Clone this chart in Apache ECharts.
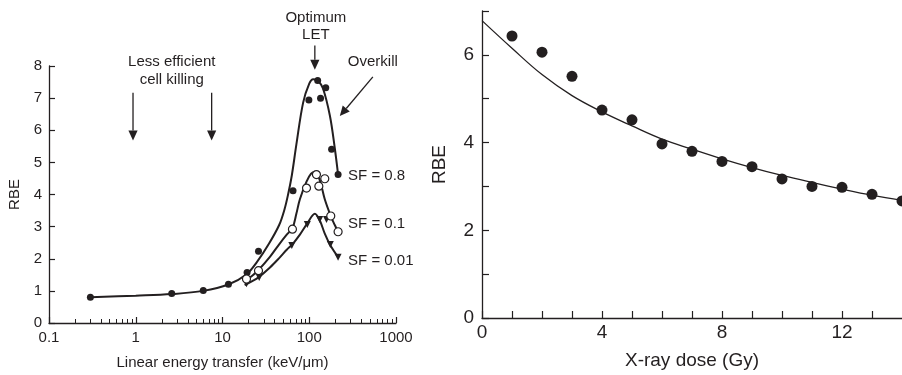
<!DOCTYPE html>
<html><head><meta charset="utf-8">
<script src="https://cdn.jsdelivr.net/npm/echarts@6/dist/echarts.min.js"></script>
<style>html,body{margin:0;padding:0;background:#fff}#c{width:902px;height:375px}</style>
</head><body><div id="c"></div>
<script>
// ---- Left panel: RBE vs LET ----
const letTicks = [0.1, 1, 10, 100, 1000];
const letMinorTicks = [0.2,0.3,0.4,0.5,0.6,0.7,0.8,0.9,2,3,4,5,6,7,8,9,20,30,40,50,60,70,80,90,200,300,400,500,600,700,800,900];
const sf08Let = [0.3, 2.6, 6.0, 11.7, 19.2, 26, 65, 99, 125, 135, 155, 181, 215];
const sf08Rbe = [0.80, 0.92, 1.01, 1.21, 1.57, 2.23, 4.12, 6.94, 7.55, 7.00, 7.32, 5.41, 4.62];
const sf01Let = [18.9, 26, 64, 93, 121, 129, 151, 177, 215];
const sf01Rbe = [1.37, 1.63, 2.92, 4.20, 4.62, 4.26, 4.49, 3.33, 2.84];
const sf001Let = [18.9, 26.5, 63, 95, 132, 158, 175, 215];
const sf001Rbe = [1.22, 1.42, 2.41, 3.07, 3.22, 3.22, 2.44, 2.05];
const sf08CurveLet = [0.3, 1, 2.6, 6, 11.7, 19, 25, 34, 45, 52, 57, 63, 71, 85, 100, 111, 125, 144, 173, 197, 215];
const sf08CurveRbe = [0.80, 0.85, 0.90, 1.00, 1.20, 1.52, 1.90, 2.45, 3.05, 3.55, 4.00, 4.60, 5.55, 6.86, 7.45, 7.59, 7.55, 7.30, 6.45, 5.44, 4.62];
const sf01CurveLet = [18, 22, 26, 35, 45, 55, 64, 71, 78, 93, 105, 116, 132, 151, 177, 197, 215];
const sf01CurveRbe = [1.30, 1.47, 1.65, 2.05, 2.45, 2.75, 2.95, 3.40, 3.85, 4.40, 4.65, 4.70, 4.45, 3.85, 3.33, 3.05, 2.84];
const sf001CurveLet = [18, 22, 26, 35, 45, 55, 64, 78, 95, 116, 132, 151, 175, 215];
const sf001CurveRbe = [1.18, 1.30, 1.42, 1.72, 2.02, 2.28, 2.45, 2.75, 3.10, 3.40, 3.20, 2.78, 2.42, 2.05];
const sfLabels = ['SF = 0.8', 'SF = 0.1', 'SF = 0.01'];

// ---- Right panel: RBE vs X-ray dose ----
const doseX = [1, 2, 3, 4, 5, 6, 7, 8, 9, 10, 11, 12, 13, 14];
const doseRbe = [6.43, 6.06, 5.51, 4.74, 4.52, 3.97, 3.80, 3.57, 3.45, 3.17, 3.00, 2.98, 2.82, 2.67];
const fitX = [0, 1, 2, 3, 4, 5, 6, 7, 8, 9, 10, 11, 12, 13, 14];
const fitRbe = [6.78, 6.15, 5.55, 5.07, 4.70, 4.38, 4.08, 3.85, 3.63, 3.43, 3.25, 3.09, 2.94, 2.80, 2.68];

// annotations (data coordinates of left panel)
const annArrows = [
  {from: [0.93, 7.17], to: [0.93, 5.68]},
  {from: [7.5, 7.17], to: [7.5, 5.68]},
  {from: [116, 8.64], to: [116, 7.88]},
  {from: [541, 7.66], to: [225, 6.44]}
];
const annTexts = [
  {text: 'Optimum', at: [119, 9.50]},
  {text: 'LET', at: [119, 8.96]},
  {text: 'Overkill', at: [541, 8.12]},
  {text: 'Less efficient', at: [2.6, 8.13]},
  {text: 'cell killing', at: [2.6, 7.57]}
];

const INK = '#231f20';
const FONT = 'Liberation Sans, Arial, sans-serif';
const zip = (a, b) => a.map((v, i) => [v, b[i]]);

const chart = echarts.init(document.getElementById('c'), null, {renderer: 'canvas'});
const lblL = {color: INK, fontSize: 15, fontFamily: FONT};
const lblR = {color: INK, fontSize: 19, fontFamily: FONT};

function curve(name, xs, ys, label, offset) {
  return {
    type: 'line', name, xAxisIndex: 0, yAxisIndex: 0, data: zip(xs, ys),
    smooth: 0.35, showSymbol: false, symbol: 'none', clip: false,
    lineStyle: {color: INK, width: 2}, z: 2,
    endLabel: {show: true, formatter: label, color: INK, fontSize: 15, fontFamily: FONT, distance: 10, offset: offset}
  };
}

chart.setOption({
  animation: false,
  backgroundColor: '#fff',
  grid: [
    {left: 49, top: 66, width: 347, height: 262},
    {left: 482, top: 11, width: 421, height: 307}
  ],
  xAxis: [
    {gridIndex: 0, type: 'log', logBase: 10, min: 0.1, max: 1000, position: 'bottom',
     name: 'Linear energy transfer (keV/\u03bcm)', nameLocation: 'middle', nameGap: 32,
     nameTextStyle: lblL,
     axisLine: {show: true, lineStyle: {color: INK, width: 1.3}},
     axisTick: {show: true, inside: true, length: 6, lineStyle: {color: INK, width: 1.2}},
     axisLabel: {show: true, margin: 7, ...lblL, formatter: v => String(+v.toPrecision(3))},
     splitLine: {show: false}, minorTick: {show: false}},
    {gridIndex: 0, type: 'log', logBase: 10, min: 0.1, max: 1000, position: 'bottom',
     axisLine: {show: false}, axisLabel: {show: false}, splitLine: {show: false},
     axisTick: {show: true, inside: true, length: 4, customValues: letMinorTicks, lineStyle: {color: INK, width: 1}}},
    {gridIndex: 1, type: 'value', min: 0, max: 14, interval: 1,
     name: 'X-ray dose (Gy)', nameLocation: 'middle', nameGap: 33, nameTextStyle: lblR,
     axisLine: {show: true, lineStyle: {color: INK, width: 1.3}},
     axisTick: {show: true, inside: true, length: 7, lineStyle: {color: INK, width: 1.2}},
     axisLabel: {show: true, margin: 5, ...lblR, showMaxLabel: false, formatter: v => (v % 4 === 0 ? String(v) : '')},
     splitLine: {show: false}}
  ],
  yAxis: [
    {gridIndex: 0, type: 'value', min: 0, max: 8, interval: 1,
     name: 'RBE', nameLocation: 'middle', nameGap: 27, nameRotate: 90, nameTextStyle: lblL,
     axisLine: {show: true, lineStyle: {color: INK, width: 1.3}},
     axisTick: {show: true, inside: true, length: 6, lineStyle: {color: INK, width: 1.2}},
     axisLabel: {show: true, margin: 7, ...lblL},
     splitLine: {show: false}},
    {gridIndex: 1, type: 'value', min: 0, max: 7, interval: 1,
     name: 'RBE', nameLocation: 'middle', nameGap: 33, nameRotate: 90, nameTextStyle: lblR,
     axisLine: {show: true, lineStyle: {color: INK, width: 1.3}},
     axisTick: {show: true, inside: true, length: 7, lineStyle: {color: INK, width: 1.2}},
     axisLabel: {show: true, margin: 8, ...lblR, formatter: v => (v % 2 === 0 ? String(v) : '')},
     splitLine: {show: false}}
  ],
  series: [
    curve('SF08 fit', sf08CurveLet, sf08CurveRbe, sfLabels[0], [0, 1]),
    curve('SF01 fit', sf01CurveLet, sf01CurveRbe, sfLabels[1], [0, -8]),
    curve('SF001 fit', sf001CurveLet, sf001CurveRbe, sfLabels[2], [0, 4]),
    {type: 'scatter', name: 'SF08', xAxisIndex: 0, yAxisIndex: 0, data: zip(sf08Let, sf08Rbe),
     symbol: 'circle', symbolSize: 7, itemStyle: {color: INK, opacity: 1}, z: 3},
    {type: 'scatter', name: 'SF01', xAxisIndex: 0, yAxisIndex: 0, data: zip(sf01Let, sf01Rbe),
     symbol: 'circle', symbolSize: 8, itemStyle: {color: '#fff', borderColor: INK, borderWidth: 1.2, opacity: 1}, z: 4},
    {type: 'scatter', name: 'SF001', xAxisIndex: 0, yAxisIndex: 0, data: zip(sf001Let, sf001Rbe),
     symbol: 'triangle', symbolRotate: 180, symbolSize: [7, 7], itemStyle: {color: INK, opacity: 1}, z: 3},
    {type: 'line', name: 'fit', xAxisIndex: 2, yAxisIndex: 1, data: zip(fitX, fitRbe),
     smooth: 0.4, showSymbol: false, symbol: 'none', clip: false,
     lineStyle: {color: INK, width: 1.3}, z: 2},
    {type: 'scatter', name: 'dose', xAxisIndex: 2, yAxisIndex: 1, data: zip(doseX, doseRbe),
     symbol: 'circle', symbolSize: 11, itemStyle: {color: INK, opacity: 1}, clip: false, z: 3}
  ]
});

// annotations placed through the left panel's scales
const toPx = p => chart.convertToPixel({xAxisIndex: 0, yAxisIndex: 0}, p);
const graphics = [];
annArrows.forEach(a => {
  const p0 = toPx(a.from), p1 = toPx(a.to);
  const dx = p1[0] - p0[0], dy = p1[1] - p0[1];
  const len = Math.hypot(dx, dy), ux = dx / len, uy = dy / len;
  const hl = 10, hw = 4.6;
  const bx = p1[0] - ux * hl, by = p1[1] - uy * hl;
  graphics.push({type: 'line', shape: {x1: p0[0], y1: p0[1], x2: bx, y2: by},
    style: {stroke: INK, lineWidth: 1.3}, silent: true});
  graphics.push({type: 'polygon', shape: {points: [[p1[0], p1[1]], [bx - uy * hw, by + ux * hw], [bx + uy * hw, by - ux * hw]]},
    style: {fill: INK}, silent: true});
});
annTexts.forEach(t => {
  const p = toPx(t.at);
  graphics.push({type: 'text', x: p[0], y: p[1], style: {text: t.text, fill: INK, fontSize: 15, fontFamily: FONT,
    align: 'center', verticalAlign: 'middle'}, silent: true});
});
chart.setOption({graphic: graphics});
</script>
</body></html>
